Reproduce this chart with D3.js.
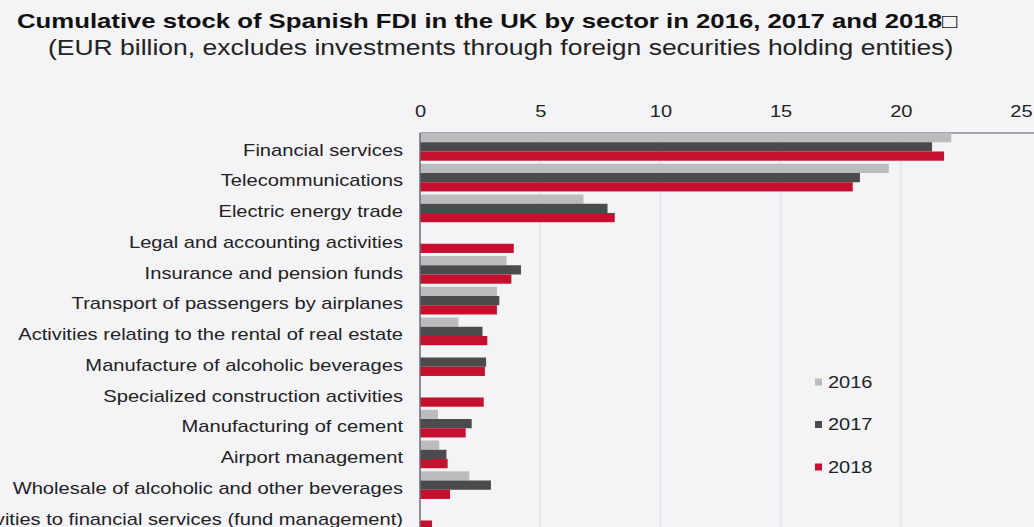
<!DOCTYPE html>
<html>
<head>
<meta charset="utf-8">
<script src="https://cdn.jsdelivr.net/npm/d3@7"></script>
<style>
  html, body { margin: 0; padding: 0; background: #f4f3f6; }
  svg { display: block; font-family: "Liberation Sans", Arial, sans-serif; }
</style>
</head>
<body>
<svg id="chart" width="1034" height="527"></svg>
<script>
// Sectors, top to bottom
const sectors = [
  "Financial services",
  "Telecommunications",
  "Electric energy trade",
  "Legal and accounting activities",
  "Insurance and pension funds",
  "Transport of passengers by airplanes",
  "Activities relating to the rental of real estate",
  "Manufacture of alcoholic beverages",
  "Specialized construction activities",
  "Manufacturing of cement",
  "Airport management",
  "Wholesale of alcoholic and other beverages",
  "Auxiliary activities to financial services (fund management)"
];
const years = ["2016", "2017", "2018"];

// Stock per sector, EUR billion
const values2016 = [22.1, 19.5, 6.8, 0, 3.6, 3.2, 1.6, 0, 0, 0.75, 0.8, 2.05, 0];
const values2017 = [21.3, 18.3, 7.8, 0, 4.2, 3.3, 2.6, 2.75, 0, 2.15, 1.1, 2.95, 0];
const values2018 = [21.8, 18.0, 8.1, 3.9, 3.8, 3.2, 2.8, 2.7, 2.65, 1.9, 1.15, 1.25, 0.5];

const xTicks = [0, 5, 10, 15, 20, 25];

const seriesColors = { "2016": "#bcbcbf", "2017": "#4b4b4e", "2018": "#c5102f" };

const series = { "2016": values2016, "2017": values2017, "2018": values2018 };

const svg = d3.select("#chart");
const W = 1034, H = 527;
const sx = 1.25; // horizontal stretch applied to all text

svg.append("rect").attr("width", W).attr("height", H).attr("fill", "#f4f3f6");

// stretched text helper
function stext(parent, x, y, str, opts) {
  const g = parent.append("g").attr("transform", `translate(${x},${y}) scale(${sx},1)`);
  const t = g.append("text").text(str)
    .attr("font-size", opts.size || 16)
    .attr("font-weight", opts.weight || "normal")
    .attr("fill", opts.fill || "#222")
    .attr("text-anchor", opts.anchor || "start");
  if (opts.dy) t.attr("dy", opts.dy);
  return t;
}

// Titles
stext(svg, 17, 28, "Cumulative stock of Spanish FDI in the UK by sector in 2016, 2017 and 2018\u25A1",
  { size: 20.6, weight: "bold", fill: "#111" });
stext(svg, 48, 55, "(EUR billion, excludes investments through foreign securities holding entities)",
  { size: 21.2, fill: "#222" });

// Scales
const x = d3.scaleLinear().domain([0, 25]).range([420, 1021]);
const y = d3.scaleBand().domain(sectors).range([131.5, 131.5 + 13 * 30.75])
  .paddingInner(0.1).paddingOuter(0.05);
const yInner = d3.scaleBand().domain(years).range([0, y.bandwidth()]);

// Gridlines
svg.append("g").selectAll("line")
  .data(xTicks.filter(d => d > 0 && d < 25))
  .join("line")
  .attr("x1", d => x(d)).attr("x2", d => x(d))
  .attr("y1", 133).attr("y2", H)
  .attr("stroke", "#e4e3e8").attr("stroke-width", 1.5);

// Top axis via d3.axisTop, labels restyled with stretch
const axisG = svg.append("g").attr("transform", "translate(0,133)")
  .call(d3.axisTop(x).tickValues(xTicks).tickSize(0).tickPadding(16).tickFormat(d3.format("d")));
axisG.select(".domain").remove();
axisG.selectAll(".tick text").each(function() {
  const t = d3.select(this);
  t.attr("font-size", 16).attr("fill", "#222").attr("font-family", "Liberation Sans, Arial, sans-serif")
   .attr("transform", `scale(${sx},1)`);
});
svg.append("line").attr("x1", x(0)).attr("x2", W).attr("y1", 133).attr("y2", 133)
  .attr("stroke", "#8c8c90").attr("stroke-width", 1.5);

// Bars
const groups = svg.append("g").selectAll("g")
  .data(sectors)
  .join("g")
  .attr("transform", d => `translate(0,${y(d)})`);

groups.selectAll("rect")
  .data((d, i) => years.map(yr => ({ yr, v: series[yr][i] })))
  .join("rect")
  .attr("x", x(0))
  .attr("y", d => yInner(d.yr))
  .attr("width", d => x(d.v) - x(0))
  .attr("height", yInner.bandwidth())
  .attr("fill", d => seriesColors[d.yr]);

// Vertical axis line
svg.append("line").attr("x1", x(0)).attr("x2", x(0)).attr("y1", 133).attr("y2", H)
  .attr("stroke", "#6e6e72").attr("stroke-width", 1.5);

// Category labels
sectors.forEach(s => {
  stext(svg, 403, y(s) + y.bandwidth() / 2 + 3, s, { size: 16.1, anchor: "end", fill: "#222", dy: "0.35em" });
});

// Legend
const legend = svg.append("g");
years.forEach((yr, i) => {
  const ly = 382 + i * 42.5;
  legend.append("rect").attr("x", 815).attr("y", ly - 3.5).attr("width", 7).attr("height", 7)
    .attr("fill", seriesColors[yr]);
  stext(legend, 828, ly, yr, { size: 16, fill: "#222", dy: "0.35em" });
});
</script>
</body>
</html>
